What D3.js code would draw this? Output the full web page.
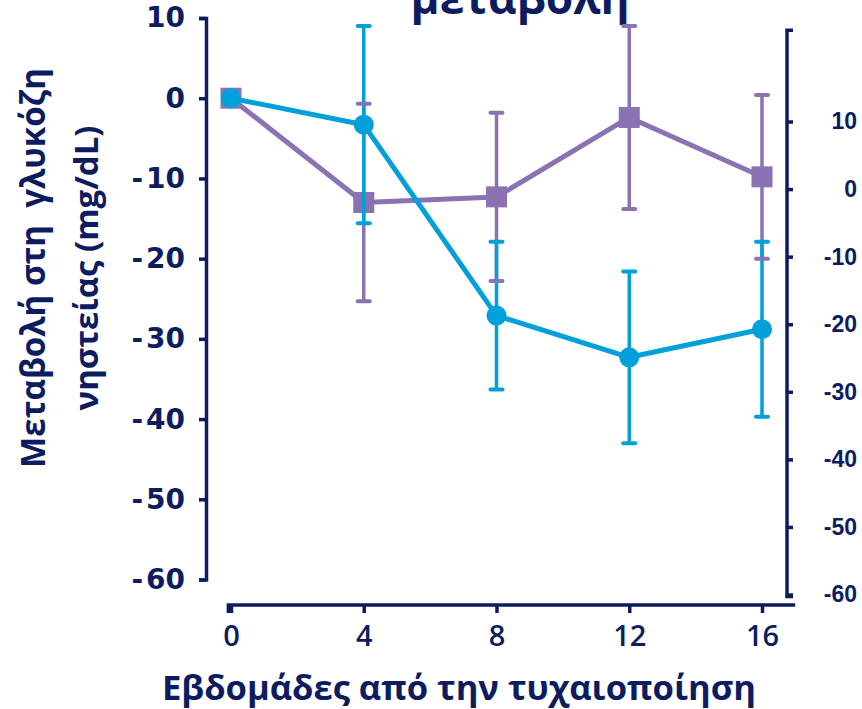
<!DOCTYPE html>
<html>
<head>
<meta charset="utf-8">
<script src="https://cdn.jsdelivr.net/npm/d3@7"></script>
<style>
  html, body { margin: 0; padding: 0; background: #ffffff; }
  svg { display: block; }
</style>
</head>
<body>
<div id="chart"></div>
<script>
// Weeks since randomisation
const weeks = [0, 4, 8, 12, 16];
const weekLabels = ["0", "4", "8", "12", "16"];

// Mean change in fasting glucose (mg/dL) and its error (± SE)
const cyanMean = [0, -3.3, -27.1, -32.3, -28.8];
const cyanErr = [0, 12.3, 9.2, 10.7, 10.9];
const purpleMean = [0, -13.0, -12.3, -2.4, -9.8];
const purpleErr = [0, 12.3, 10.5, 11.4, 10.2];

// Axis tick values
const leftTicks = [10, 0, -10, -20, -30, -40, -50, -60];
const rightTicks = [10, 0, -10, -20, -30, -40, -50, -60];

const W = 862, H = 709;
const navy = "#0d1c61";
const cyan = "#00a0da";
const purple = "#8b72b3";

const svg = d3.select("#chart").append("svg")
  .attr("width", W).attr("height", H);

// Scales
const x = d3.scaleLinear().domain([0, 16]).range([231, 762]);
const y = d3.scaleLinear().domain([-60, 10]).range([579.5, 18]);
const yR = d3.scaleLinear().domain([-60, 10]).range([594.5, 121.5]);

// Fit a text element to a given width by scaling its font size
function fitWidth(sel, target) {
  const node = sel.node();
  const fs = parseFloat(sel.attr("font-size"));
  const w = node.getComputedTextLength();
  sel.attr("font-size", (fs * target / w).toFixed(2));
}

// Title (second line of a heading above the plot)
const title = svg.append("text")
  .attr("x", 520).attr("y", 14)
  .attr("text-anchor", "middle")
  .attr("font-family", "'Open Sans', sans-serif")
  .attr("font-weight", 700)
  .attr("font-size", 44)
  .attr("fill", navy)
  .text("μεταβολή");
fitWidth(title, 219);

// Left axis
const gL = svg.append("g").attr("transform", "translate(206,0)")
  .call(d3.axisLeft(y).tickValues(leftTicks).tickSize(7).tickPadding(14)
    .tickFormat(d => String(d)));
gL.select(".domain").attr("stroke", navy).attr("stroke-width", 3.5);
gL.selectAll(".tick line").attr("stroke", navy).attr("stroke-width", 3.5);
gL.selectAll(".tick text")
  .attr("fill", navy)
  .attr("font-family", "'DejaVu Sans', sans-serif")
  .attr("font-weight", 700)
  .attr("font-size", 28)
  .each(function (d) {
    const t = d3.select(this);
    if (d < 0) {
      t.text("");
      t.append("tspan").text("-");
      t.append("tspan").attr("dx", 3).text(String(-d));
    }
  });

// Right axis (extends above its top tick)
const gR = svg.append("g").attr("transform", "translate(787,0)")
  .call(d3.axisRight(yR).tickValues(rightTicks).tickSize(6).tickPadding(0)
    .tickFormat(d => String(d)));
gR.select(".domain")
  .attr("d", `M6,${yR(23.5)}H0V${yR(-60.3)}H6`)
  .attr("stroke", navy).attr("stroke-width", 3.5).attr("fill", "none");
gR.selectAll(".tick line").attr("stroke", navy).attr("stroke-width", 3.5);
gR.selectAll(".tick text")
  .attr("fill", navy)
  .attr("x", 70)
  .attr("text-anchor", "end")
  .attr("font-family", "'Liberation Sans', Arial, sans-serif")
  .attr("font-weight", 700)
  .attr("font-size", 23);

// Bottom axis
const gX = svg.append("g").attr("transform", "translate(0,605)")
  .call(d3.axisBottom(x).tickValues(weeks).tickSize(8).tickSizeOuter(0).tickPadding(12)
    .tickFormat((d, i) => weekLabels[i]));
gX.select(".domain")
  .attr("d", `M${x(-0.08)},8V0H${x(17)}`)
  .attr("stroke", navy).attr("stroke-width", 3.5).attr("fill", "none");
gX.selectAll(".tick line").attr("stroke", navy).attr("stroke-width", 3.5);
gX.selectAll(".tick text")
  .attr("fill", navy)
  .attr("font-family", "'Open Sans', sans-serif")
  .attr("font-weight", 600)
  .attr("font-size", 29);

// Axis titles
const xTitle = svg.append("text")
  .attr("x", 459).attr("y", 700)
  .attr("text-anchor", "middle")
  .attr("font-family", "'Open Sans', sans-serif")
  .attr("font-weight", 700)
  .attr("font-size", 31)
  .attr("fill", navy)
  .text("Εβδομάδες από την τυχαιοποίηση");
fitWidth(xTitle, 594);

const yTitle1 = svg.append("text")
  .attr("transform", "translate(45,268) rotate(-90)")
  .attr("text-anchor", "middle")
  .attr("font-family", "'Open Sans', sans-serif")
  .attr("font-weight", 700)
  .attr("font-size", 30)
  .attr("fill", navy)
  .attr("xml:space", "preserve")
  .style("white-space", "pre")
  .text("Μεταβολή στη  γλυκόζη");
fitWidth(yTitle1, 400);

const yTitle2 = svg.append("text")
  .attr("transform", "translate(98,268) rotate(-90)")
  .attr("text-anchor", "middle")
  .attr("font-family", "'Open Sans', sans-serif")
  .attr("font-weight", 700)
  .attr("font-size", 30)
  .attr("fill", navy)
  .text("νηστείας (mg/dL)");
fitWidth(yTitle2, 285);

// Series helpers
const line = d3.line().x((d, i) => x(weeks[i])).y(d => y(d));

function drawSeriesLine(mean, color) {
  svg.append("path")
    .datum(mean)
    .attr("d", line)
    .attr("fill", "none")
    .attr("stroke", color)
    .attr("stroke-width", 5)
    .attr("stroke-linejoin", "round");
}

function drawBars(mean, err, color) {
  const idx = weeks.map((w, i) => i).filter(i => err[i] > 0);
  svg.append("g").selectAll("line").data(idx).join("line")
    .attr("x1", i => x(weeks[i])).attr("x2", i => x(weeks[i]))
    .attr("y1", i => y(mean[i] + err[i])).attr("y2", i => y(mean[i] - err[i]))
    .attr("stroke", color).attr("stroke-width", 3.5);
}

function drawCaps(mean, err, color) {
  const idx = weeks.map((w, i) => i).filter(i => err[i] > 0);
  const caps = [];
  idx.forEach(i => { caps.push([i, mean[i] + err[i]]); caps.push([i, mean[i] - err[i]]); });
  svg.append("g").selectAll("line").data(caps).join("line")
    .attr("x1", d => x(weeks[d[0]]) - 6).attr("x2", d => x(weeks[d[0]]) + 6)
    .attr("y1", d => y(d[1])).attr("y2", d => y(d[1]))
    .attr("stroke", color).attr("stroke-width", 4).attr("stroke-linecap", "round");
}

// Purple series: line and square markers
drawSeriesLine(purpleMean, purple);
svg.append("g").selectAll("rect").data(purpleMean).join("rect")
  .attr("x", (d, i) => x(weeks[i]) - 10.5)
  .attr("y", d => y(d) - 10.5)
  .attr("width", 21).attr("height", 21)
  .attr("fill", purple);

// Error bars
drawBars(purpleMean, purpleErr, purple);
drawBars(cyanMean, cyanErr, cyan);
drawCaps(purpleMean, purpleErr, purple);
drawCaps(cyanMean, cyanErr, cyan);

// Cyan series: line and circle markers
drawSeriesLine(cyanMean, cyan);
svg.append("g").selectAll("circle").data(cyanMean).join("circle")
  .attr("cx", (d, i) => x(weeks[i]))
  .attr("cy", d => y(d))
  .attr("r", 10)
  .attr("fill", cyan);
</script>
</body>
</html>
